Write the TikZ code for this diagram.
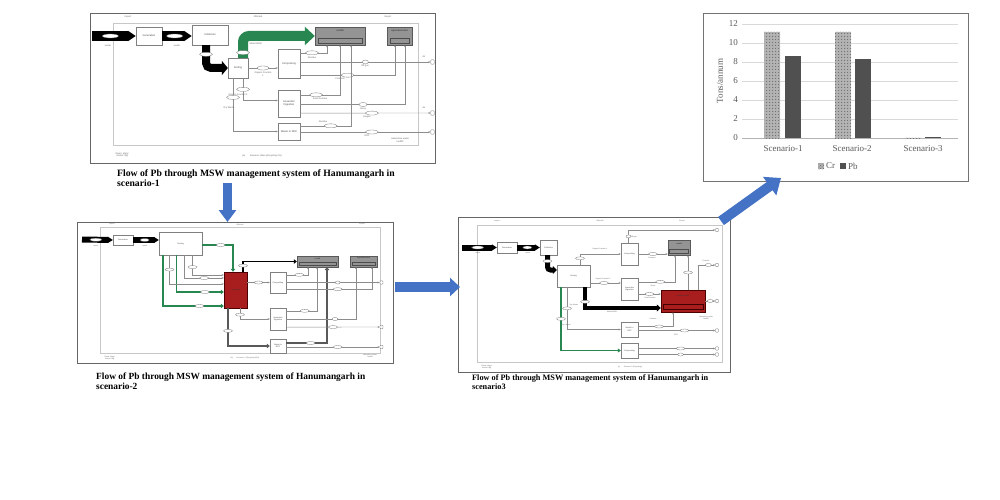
\documentclass[tikz,border=0pt]{standalone}
\usepackage{fontspec}
\setmainfont{Liberation Serif}
\setsansfont{Liberation Sans}
\usetikzlibrary{arrows.meta,shapes.geometric,patterns,calc}
\definecolor{bluearr}{RGB}{68,114,196}
\definecolor{mgreen}{RGB}{40,135,80}
\definecolor{mred}{RGB}{168,30,30}
\definecolor{chartgrey}{RGB}{89,89,89}
\definecolor{bargrey}{RGB}{80,80,80}
\tikzset{
  frame/.style={draw=black!60, line width=0.9pt},
  bnd/.style={draw=black!22, line width=0.4pt},
  pbox/.style={draw=black!50, fill=white, line width=0.35pt, inner sep=0pt, align=center, font=\sffamily\fontsize{2.6}{3}\selectfont, text=black!70},
  sbox/.style={pbox, font=\sffamily\fontsize{2}{2.4}\selectfont},
  gbox/.style={draw=black!65, fill=black!42, line width=0.4pt, inner sep=0pt},
  rbox/.style={draw=red!30!black, fill=mred, line width=0.4pt, inner sep=0pt},
  inrect/.style={draw=black!70, line width=0.3pt, inner sep=0pt},
  flow/.style={draw=black!45, line width=0.35pt, -{Stealth[length=2.2pt,width=1.8pt]}},
  elab/.style={ellipse, draw=black!55, fill=white, line width=0.3pt, minimum width=13pt, minimum height=4pt, inner sep=0pt},
  selab/.style={elab, minimum width=9pt, minimum height=3pt},
  tlab/.style={font=\sffamily\fontsize{2.3}{2.7}\selectfont, text=black!60, inner sep=0.3pt, align=center},
  stlab/.style={tlab, font=\sffamily\fontsize{1.8}{2.1}\selectfont},
  outm/.style={draw=black!55, fill=white, rounded corners=0.8pt, minimum width=3.5pt, minimum height=4.5pt, inner sep=0pt},
  capt/.style={font=\bfseries\fontsize{9.7}{10}\selectfont, inner sep=0pt, anchor=base west},
  ctext/.style={font=\fontsize{9}{10}\selectfont, text=chartgrey, inner sep=1pt},
  gridl/.style={draw=black!15, line width=0.6pt},
  bigblue/.style={draw=bluearr, line width=#1},
}
\begin{document}
\begin{tikzpicture}[x=1pt,y=-1pt]
\useasboundingbox (0,0) rectangle (1000,500);
\fill[white] (0,0) rectangle (1000,500);

%================ Scenario 1 =================
\draw[frame] (90,13) rectangle (435,163);
\draw[bnd] (113,23) rectangle (418,145);
\node[tlab] (A1imp) at (128,16.5) {Import};
\node[tlab] (A1aff) at (258,16.5) {Affected};
\node[tlab] (A1exp) at (388,16.5) {Export};
\coordinate (A1src) at (92,36);
\node[pbox, minimum width=26pt, minimum height=18pt] (A1gen) at (149,36) {Generation};
\node[pbox, minimum width=36pt, minimum height=20pt] (A1col) at (210,35) {Collection};
\node[pbox, minimum width=20pt, minimum height=20pt] (A1sort) at (238,68) {Sorting};
\node[pbox, minimum width=22pt, minimum height=29pt] (A1comp) at (289,63.5) {Composting};
\node[pbox, minimum width=22pt, minimum height=27pt] (A1ad) at (289,103.5) {Anaerobic\\Digestion};
\node[pbox, minimum width=22pt, minimum height=17pt] (A1rdf) at (289,131.5) {Waste to RDF};
\node[gbox, minimum width=50pt, minimum height=18pt] (A1lf) at (340,36) {};
\node[tlab, text=black!85] (A1lft) at (340,30.5) {Landfill};
\node[inrect, minimum width=44pt, minimum height=5pt] (A1lfi) at (340,40.5) {};
\node[gbox, minimum width=25pt, minimum height=18pt] (A1ag) at (399.5,36) {};
\node[tlab, text=black!85] (A1agt) at (399.5,30.5) {Agricultural land};
\node[inrect, minimum width=19pt, minimum height=5pt] (A1agi) at (399.5,40.5) {};
\node[outm] (A1o1) at (432.5,62) {};
\node[outm] (A1o2) at (432.5,113) {};
\node[outm] (A1o3) at (432.5,132) {};
\node[tlab] (A1air1) at (424,57) {Air};
\node[tlab] (A1air2) at (424,108) {Air};
\coordinate (A1lfp1) at (327,45);
\coordinate (A1lfp2) at (340,45);
\coordinate (A1lfp3) at (351,45);
\coordinate (A1agp1) at (395,45);
\coordinate (A1agp2) at (405,45);
% fat input arrows
\draw[line width=10pt, -{Triangle[length=8pt,width=10pt]}] (A1src) -- (A1gen.west) node[elab, pos=0.42, minimum width=16pt] (A1e0) {};
\draw[line width=10pt, -{Triangle[length=8pt,width=10pt]}] (A1gen.east) -- (A1col.west |- A1gen.east) node[elab, pos=0.42, minimum width=16pt] (A1e00) {};
\node[tlab] (A1w1) at (108,46) {waste};
\node[tlab] (A1w2) at (177,46) {waste};
% black bent arrow collection -> sorting
\draw[line width=8pt, rounded corners=5pt, -{Triangle[length=6pt,width=14pt]}] ([xshift=-4pt]A1col.south) |- (A1sort.west) node[elab, pos=0.2] (A1e1) {};
% green arrow sorting -> landfill
\draw[mgreen, line width=10pt, rounded corners=6pt, -{Triangle[length=10pt,width=18pt]}] ([xshift=5pt]A1sort.north) |- (A1lf.west) node[elab, pos=0.12] (A1e2) {};
\node[tlab, anchor=west] (A1mx) at (249,44) {Mixed MSW};
% thin flows
\draw[flow] (A1sort.east) -- (A1sort.east -| A1comp.west) node[elab, midway, minimum width=12pt] (A1e3) {};
\node[tlab] (A1of1) at (263,74) {Organic Fraction\\1};
\draw[flow] ([yshift=-4pt]A1comp.north east) -| (A1lfp1) node[elab, pos=0.22] (A1e4) {};
\node[tlab] (A1res1) at (312,57.5) {Residue};
\draw[flow] ([yshift=1.5pt]A1comp.east) -- (A1o1.west) node[elab, pos=0.5, minimum width=6pt] (A1e5) {};
\node[tlab] (A1og) at (365,66) {Off gas};
\draw[flow] ([yshift=3pt]A1comp.south east) -| (A1agp1) node[elab, pos=0.25] (A1e6) {};
\node[tlab] (A1cp) at (340,79) {Compost};
\draw[flow] ([xshift=5pt]A1sort.south) |- ([yshift=3pt]A1ad.west) node[elab, pos=0.25] (A1e7) {};
\node[tlab] (A1of2) at (238,94.5) {Organic Fraction 2};
\draw[flow] ([yshift=-5pt]A1ad.north east) -| (A1lfp2) node[elab, pos=0.2] (A1e8) {};
\node[tlab] (A1sr) at (320,99) {Solid Residue};
\draw[flow] ([yshift=-1pt]A1ad.east) -| (A1agp2) node[elab, pos=0.3, minimum width=8pt] (A1e9) {};
\node[tlab] (A1sl) at (363,108.5) {Slurry};
\draw[flow] ([yshift=4pt]A1ad.south east) -- (A1o2.west) node[elab, pos=0.55] (A1e10) {};
\node[tlab] (A1bg) at (367,117) {Biogas};
\draw[flow] ([xshift=-5pt]A1sort.south) |- (A1rdf.west) node[elab, pos=0.18] (A1e11) {};
\node[tlab] (A1dw) at (229,108) {Dry Waste};
\draw[flow] ([yshift=-3pt]A1rdf.north east) -| (A1lfp3) node[elab, pos=0.3] (A1e12) {};
\node[tlab] (A1res2) at (323,122) {Residue};
\draw[flow] ([yshift=-0.5pt]A1rdf.east) -- (A1o3.west) node[elab, pos=0.55] (A1e13) {};
\node[tlab] (A1rdfl) at (367,136) {RDF};
\node[tlab] (A1hz) at (400,140) {Hazardous waste\\landfill};
\node[tlab, anchor=west] (A1fl) at (115,155) {Flows: Mg/yr\\Stocks: Mg};
\node[tlab] (A1sc) at (262,156) {(a)\qquad Scenario: Base (Recycling 0\%)};

%================ Scenario 2 =================
\draw[frame] (77,222) rectangle (393,363);
\draw[bnd] (100,227) rectangle (380,353);
\node[stlab] (B2imp) at (112,224.5) {Import};
\node[stlab] (B2aff) at (240,224.5) {Affected};
\node[stlab] (B2exp) at (362,224.5) {Export};
\coordinate (B2src) at (82,239.5);
\node[sbox, minimum width=20pt, minimum height=10pt] (B2gen) at (123,240) {Generation};
\node[sbox, minimum width=43pt, minimum height=23pt] (B2sort) at (180.5,243.5) {Sorting};
\node[rbox, minimum width=23pt, minimum height=36pt] (B2red) at (235.5,290) {};
\node[stlab, text=black!80] (B2redt) at (235.5,290) {Recycling};
\node[sbox, minimum width=16pt, minimum height=21pt] (B2comp) at (278,282.5) {Composting};
\node[sbox, minimum width=16pt, minimum height=22pt] (B2ad) at (278,319) {Anaerobic\\Digestion};
\node[sbox, minimum width=16pt, minimum height=14pt] (B2rdf) at (278,346) {Waste to\\RDF};
\node[gbox, minimum width=41pt, minimum height=11pt] (B2lf) at (317.5,261.5) {};
\node[stlab, text=black!85] (B2lft) at (317.5,258.5) {Landfill};
\node[inrect, minimum width=37pt, minimum height=3pt] (B2lfi) at (317.5,264) {};
\node[gbox, minimum width=27pt, minimum height=11pt] (B2ag) at (363.5,261.5) {};
\node[stlab, text=black!85] (B2agt) at (363.5,258.5) {Agricultural land};
\node[inrect, minimum width=23pt, minimum height=3pt] (B2agi) at (363.5,264) {};
\node[outm, minimum width=3pt, minimum height=3.5pt] (B2o1) at (381.5,282.5) {};
\node[outm, minimum width=3pt, minimum height=3.5pt] (B2o2) at (381.5,327) {};
\node[outm, minimum width=3pt, minimum height=3.5pt] (B2o3) at (381.5,347) {};
\coordinate (B2lfp) at (327,267);
\coordinate (B2lfp2) at (308,267);
\coordinate (B2lfp3) at (317,267);
\coordinate (B2agp) at (372,267);
\coordinate (B2agp2) at (356,267);
\draw[line width=6pt, -{Triangle[length=5pt,width=6pt]}] (B2src) -- (B2gen.west) node[selab, pos=0.45, minimum width=12pt] (B2e0) {};
\draw[line width=6pt, -{Triangle[length=5pt,width=6pt]}] (B2gen.east) -- (B2sort.west |- B2gen.east) node[selab, pos=0.45] (B2e00) {};
\node[stlab] (B2w1) at (96,245.5) {waste};
\node[stlab] (B2w2) at (145,245.5) {waste};
\draw[mgreen, line width=1.6pt, -{Triangle[length=3pt,width=4.5pt]}] ([yshift=-1.5pt]B2sort.east) -| ([xshift=-2.5pt]B2red.north) node[selab, pos=0.3] (B2e1) {};
\draw[mgreen, line width=1.6pt, -{Triangle[length=3pt,width=4.5pt]}] ([xshift=-17.5pt]B2sort.south) |- ([yshift=-16pt]B2red.west) node[selab, pos=0.8] (B2e2) {};
\draw[mgreen, line width=1.6pt, -{Triangle[length=3pt,width=4.5pt]}] ([xshift=-4pt]B2sort.south) |- ([yshift=-2pt]B2red.west) node[selab, pos=0.8] (B2e3) {};
\draw[flow] ([xshift=-11pt]B2sort.south) |- ([yshift=6pt]B2red.west) node[selab, pos=0.25] (B2e4) {};
\draw[flow] ([xshift=4pt]B2sort.south) |- ([yshift=12pt]B2red.west) node[selab, pos=0.75] (B2e5) {};
\draw[flow] ([xshift=12pt]B2sort.south) |- ([yshift=15pt]B2red.west) node[selab, pos=0.3] (B2e5b) {};
\draw[line width=1.8pt, -{Triangle[length=3pt,width=4.5pt]}] ([xshift=7.5pt]B2red.north) |- (B2lf.west) node[selab, pos=0.3] (B2e6) {};
\draw[black!65, line width=1.6pt, -{Triangle[length=3pt,width=4.5pt]}] ([xshift=-7.5pt]B2red.south) |- (B2rdf.west) node[selab, pos=0.3] (B2e7) {};
\draw[black!65, line width=1.6pt, -{Triangle[length=3pt,width=4.5pt]}] ([yshift=3pt]B2rdf.east) -| (B2lfp) node[selab, pos=0.3] (B2e8) {};
\draw[flow] (B2red.east |- B2comp.west) -- (B2comp.west) node[selab, midway] (B2e9) {};
\draw[flow] ([xshift=4.5pt]B2red.south) |- (B2ad.west) node[selab, pos=0.3] (B2e10) {};
\draw[flow] ([yshift=-3pt]B2comp.north east) -| (B2lfp2) node[selab, pos=0.3] (B2e11) {};
\draw[flow] (B2comp.east) -- (B2o1.west) node[selab, pos=0.55, minimum width=5pt] (B2e12) {};
\draw[flow] ([yshift=4pt]B2comp.south east) -| (B2agp) node[selab, pos=0.3] (B2e13) {};
\draw[flow] ([yshift=-3pt]B2ad.north east) -| (B2lfp3) node[selab, pos=0.3] (B2e14) {};
\draw[flow] (B2ad.east) -| (B2agp2) node[selab, pos=0.35, minimum width=6pt] (B2e15) {};
\draw[flow] ([yshift=3pt]B2ad.south east) -- (B2o2.west) node[selab, pos=0.5] (B2e16) {};
\draw[flow] ([yshift=-1pt]B2rdf.east) -- (B2o3.west) node[selab, pos=0.55] (B2e17) {};
\node[stlab, anchor=west] (B2fl) at (104,358) {Flows: Mg/yr\\Stocks: Mg};
\node[stlab] (B2sc) at (245,358) {(b)\qquad Scenario: 2 (Recycling 60\%)};
\node[stlab] (B2hz) at (370,356) {Hazardous waste\\landfill};

%================ Scenario 3 =================
\draw[frame] (458,217) rectangle (730,372);
\draw[bnd] (477,225) rectangle (722,362);
\node[stlab] (C3imp) at (497,221) {Import};
\node[stlab] (C3aff) at (600,221) {Affected};
\node[stlab] (C3exp) at (682,221) {Export};
\coordinate (C3src) at (462,247.5);
\node[sbox, minimum width=20pt, minimum height=11pt] (C3gen) at (507,247.5) {Generation};
\node[sbox, minimum width=17pt, minimum height=15pt] (C3col) at (548.5,247.5) {Collection};
\node[sbox, minimum width=33pt, minimum height=22pt] (C3sort) at (573.5,276) {Sorting};
\node[sbox, minimum width=17pt, minimum height=22pt] (C3comp) at (629.5,254) {Composting};
\node[gbox, minimum width=22pt, minimum height=15pt] (C3lf) at (679,247.5) {};
\node[stlab, text=black!85] (C3lft) at (679,244) {Landfill};
\node[inrect, minimum width=19pt, minimum height=4pt] (C3lfi) at (679,251) {};
\node[sbox, minimum width=17pt, minimum height=22pt] (C3ad) at (629.5,289) {Anaerobic\\Digestion};
\node[rbox, minimum width=44pt, minimum height=22pt] (C3red) at (683,301) {};
\node[stlab, text=black!80] (C3redt) at (683,296) {Sanitary landfill};
\node[inrect, minimum width=40pt, minimum height=5pt, draw=red!25!black] (C3redi) at (683,306.5) {};
\node[sbox, minimum width=17pt, minimum height=15pt] (C3rdf) at (629.5,329.5) {Waste to\\RDF};
\node[sbox, minimum width=17pt, minimum height=15pt] (C3comp2) at (629.5,350.5) {Composting};
\node[outm, minimum width=3pt, minimum height=3.5pt] (C3o1) at (717,230) {};
\node[outm, minimum width=3pt, minimum height=3.5pt] (C3o2) at (717,265) {};
\node[outm, minimum width=3pt, minimum height=3.5pt] (C3o3) at (717,301) {};
\node[outm, minimum width=3pt, minimum height=3.5pt] (C3o4) at (717,330.5) {};
\node[outm, minimum width=3pt, minimum height=3.5pt] (C3o5) at (717,348.5) {};
\node[outm, minimum width=3pt, minimum height=3.5pt] (C3o6) at (717,354.5) {};
\draw[line width=6pt, -{Triangle[length=5pt,width=6pt]}] (C3src) -- (C3gen.west) node[selab, pos=0.45, minimum width=12pt] (C3e0) {};
\draw[line width=6pt, -{Triangle[length=5pt,width=6pt]}] (C3gen.east) -- (C3col.west) node[selab, pos=0.45] (C3e00) {};
\node[stlab] (C3w1) at (478,253) {waste};
\node[stlab] (C3w2) at (528,253) {waste};
\draw[line width=5pt, rounded corners=3pt, -{Triangle[length=4pt,width=8pt]}] ([xshift=-1pt]C3col.south) |- ([yshift=6pt]C3sort.west) node[selab, pos=0.2] (C3e1) {};
\draw[flow] ([xshift=6.5pt]C3sort.north) |- (C3comp.west) node[selab, pos=0.3] (C3e2) {};
\node[stlab] (C3of1) at (600,249) {Organic Fraction 1};
\draw[flow] ([yshift=-7pt]C3sort.east) -- ([yshift=6pt]C3ad.west) node[selab, pos=0.45] (C3e3) {};
\node[stlab] (C3of2) at (603,279) {Organic Fraction 2};
\draw[flow] (C3comp.east) -- (C3comp.east -| C3lf.west) node[selab, pos=0.5] (C3e4) {};
\node[stlab] (C3cp) at (652,258) {Compost};
\draw[flow] ([xshift=-1pt]C3comp.north) |- (C3o1.west) node[selab, pos=0.25, minimum width=5pt] (C3e5) {};
\node[stlab] (C3og) at (634,237) {Off gas};
\draw[flow] ([yshift=-4pt]C3ad.north east) -| ([xshift=-4pt]C3lf.south) node[selab, pos=0.3] (C3e6) {};
\node[stlab] (C3sl) at (653,286) {Slurry};
\draw[flow] ([xshift=5pt]C3red.north) -- ([xshift=9pt]C3lf.south) node[selab, pos=0.5] (C3e7) {};
\draw[flow] ([xshift=15pt]C3red.north) |- (C3o2.west) node[selab, pos=0.8, minimum width=6pt] (C3e8) {};
\node[stlab] (C3res) at (706,261) {Residue};
\draw[flow] ([yshift=-5pt]C3ad.east) -- ([yshift=7pt]C3red.west) node[selab, pos=0.5] (C3e9) {};
\node[stlab] (C3sr) at (650,297.5) {Solid Residue};
\draw[line width=3.5pt, -{Triangle[length=4pt,width=7pt]}] ([xshift=11.5pt]C3sort.south) |- ([yshift=-7pt]C3red.west) node[selab, pos=0.35] (C3e10) {};
\node[stlab] (C3ms) at (612,312) {Mixed MSW};
\draw[flow] (C3red.east) -- (C3o3.west) node[selab, pos=0.5, minimum width=6pt] (C3e11) {};
\draw[flow] ([xshift=-6.5pt]C3sort.south) |- (C3rdf.west) node[selab, pos=0.25] (C3e12) {};
\node[stlab] (C3dw) at (574,305) {Dry Waste};
\draw[flow] ([yshift=3pt]C3rdf.east) -| ([xshift=-10pt]C3red.south) node[selab, pos=0.3] (C3e13) {};
\node[stlab] (C3rs) at (653,319) {Residue};
\draw[flow] ([yshift=-1pt]C3rdf.east) -- (C3o4.west) node[selab, pos=0.6] (C3e14) {};
\node[stlab] (C3rdfl) at (676,334.5) {RDF};
\draw[mgreen, line width=1.3pt, -{Triangle[length=3pt,width=4pt]}] ([xshift=-12.5pt]C3sort.south) |- (C3comp2.west) node[selab, pos=0.25] (C3e15) {};
\node[stlab] (C3ow) at (566,325) {Org. Waste};
\draw[flow] ([yshift=2pt]C3comp2.east) -- (C3o5.west) node[selab, pos=0.55] (C3e16) {};
\draw[flow] ([yshift=-4pt]C3comp2.east) -- (C3o6.west) node[selab, pos=0.55, minimum width=6pt] (C3e17) {};
\node[stlab, anchor=west] (C3fl) at (481,367) {Flows: Mg/yr\\Stocks: Mg};
\node[stlab] (C3sc) at (630,367) {(c)\qquad Scenario 3 (Recycling)};
\node[stlab] (C3hz) at (706,318) {Hazardous waste\\landfill};

%================ Chart =================
\draw[draw=black!55, line width=0.8pt] (703,13) rectangle (968,181);
\foreach \v/\yy in {2/119,4/100,6/81,8/62,10/43,12/24} {
  \draw[gridl] (742,\yy) -- (958,\yy);
}
\foreach \v/\yy in {0/138,2/119,4/100,6/81,8/62,10/43,12/24} {
  \node[ctext, anchor=east] (ytk\v) at (739,\yy) {\v};
}
\draw[draw=black!30, line width=0.6pt] (742,138) -- (958,138);
\node[ctext, rotate=90] (ylab) at (720,81) {Tons/annum};
% Cr bars (speckled)
\foreach \xa/\top in {764/31.6, 835/31.6, 905/137.5} {
  \fill[black!30] (\xa,138) rectangle (\xa+16,\top);
  \fill[pattern=crosshatch dots, pattern color=black!60] (\xa,138) rectangle (\xa+16,\top);
  \fill[pattern=dots, pattern color=white] (\xa,138) rectangle (\xa+16,\top);
}
% Pb bars
\fill[bargrey] (785,138) rectangle (801,56.3);
\fill[bargrey] (855,138) rectangle (871,59.2);
\fill[bargrey] (925,138) rectangle (941,137);
\node[ctext] (cat1) at (783,149) {Scenario-1};
\node[ctext] (cat2) at (852,149) {Scenario-2};
\node[ctext] (cat3) at (923,149) {Scenario-3};
\fill[black!30] (818,163) rectangle (824,169);
\fill[pattern=crosshatch dots, pattern color=black!60] (818,163) rectangle (824,169);
\node[ctext, anchor=west] (legcr) at (825,166) {Cr};
\fill[bargrey] (840,163) rectangle (846,169);
\node[ctext, anchor=west] (legpb) at (847,166) {Pb};

%================ Captions =================
\node[capt] (capA1) at (117,176) {Flow of Pb through MSW management system of Hanumangarh in};
\node[capt] (capA2) at (117,186) {scenario-1};
\node[capt, font=\bfseries\fontsize{9.4}{10}\selectfont] (capB1) at (96,379.5) {Flow of Pb through MSW management system of Hanumangarh in};
\node[capt, font=\bfseries\fontsize{9.4}{10}\selectfont] (capB2) at (96,389) {scenario-2};
\node[capt, font=\bfseries\fontsize{8.25}{9}\selectfont] (capC1) at (472,380) {Flow of Pb through MSW management system of Hanumangarh in};
\node[capt, font=\bfseries\fontsize{8.25}{9}\selectfont] (capC2) at (472,389.5) {scenario3};

%================ Blue arrows =================
\coordinate (BA1s) at (227.5,183);
\coordinate (BA1e) at (227.5,222);
\draw[bigblue=9pt, -{Triangle[length=12pt,width=17pt]}] (BA1s) -- (BA1e);
\coordinate (BA2s) at (395,287);
\coordinate (BA2e) at (460,287);
\draw[bigblue=10pt, -{Triangle[length=10pt,width=18pt]}] (BA2s) -- (BA2e);
\coordinate (BA3s) at (721,221);
\coordinate (BA3e) at (781,178);
\draw[bigblue=10pt, -{Triangle[length=14pt,width=22pt]}] (BA3s) -- (BA3e);
\end{tikzpicture}
\end{document}
